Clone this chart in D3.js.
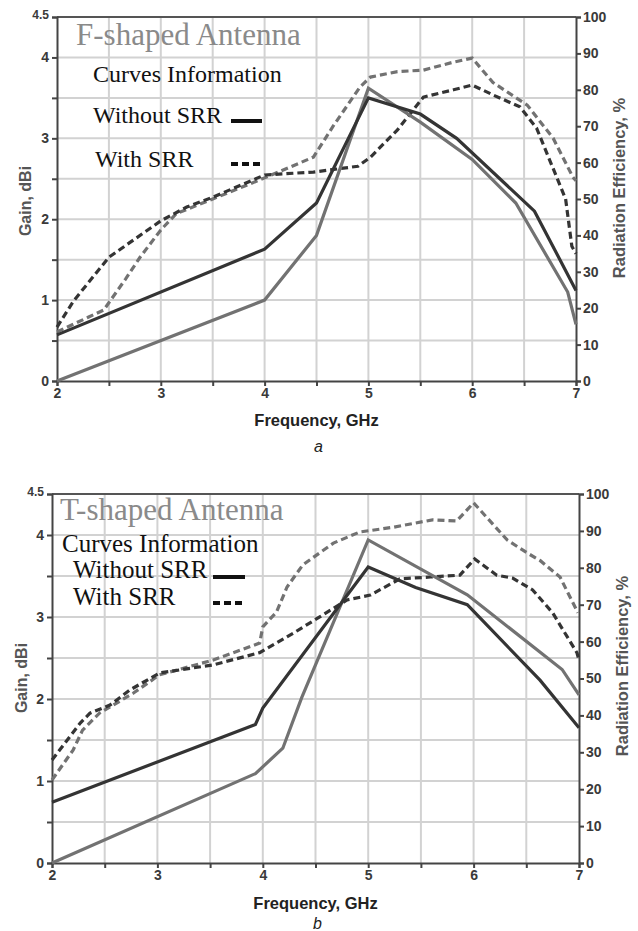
<!DOCTYPE html>
<html>
<head>
<meta charset="utf-8">
<script src="https://cdn.jsdelivr.net/npm/d3@7"></script>
<style>
  body { margin: 0; background: #fff; }
  svg { display: block; }
</style>
</head>
<body>
<div id="d3"></div>
<script>
// ---- data: [frequency GHz, value] ----
// panel a : F-shaped antenna
var aGainDark = [[2,0.57],[4,1.63],[4.5,2.2],[5,3.5],[5.5,3.3],[5.85,3.0],[6.6,2.1],[7,1.12]];
var aGainGrey = [[2,0],[4,1.0],[4.5,1.8],[5,3.62],[5.5,3.2],[6,2.74],[6.42,2.2],[6.92,1.1],[7,0.7]];
var aEffDark = [[2,14.8],[2.16,22],[2.5,34],[2.7,38],[3,44],[3.25,47.8],[3.5,50.5],[4,56.6],[4.47,57.4],
                [4.9,59],[5.02,61.5],[5.28,69],[5.53,78],[5.82,80],[6,81.3],[6.2,78.6],[6.46,75.3],
                [6.62,69.5],[6.9,50],[6.96,37],[7,35]];
var aEffGrey = [[2,13.5],[2.3,17.5],[2.45,19.5],[2.66,28],[2.8,34],[3,41.5],[3.15,46],[3.5,50],[4,55.8],
                [4.47,61.5],[4.66,70],[4.92,80.8],[5.02,83.5],[5.28,85],[5.53,85.4],[5.82,87.6],[6,88.7],
                [6.2,82],[6.53,75.8],[6.78,66.7],[6.97,56],[7,55]];
// panel b : T-shaped antenna
var bGainDark = [[2,0.74],[3.93,1.69],[4,1.89],[5,3.61],[5.45,3.36],[5.94,3.15],[6.63,2.23],[7,1.65]];
var bGainGrey = [[2,0],[3.93,1.09],[4.19,1.4],[4.37,2.02],[5,3.94],[5.94,3.27],[6.84,2.36],[7,2.05]];
var bEffDark = [[2,27.9],[2.27,38],[2.36,40.6],[2.55,42.8],[2.74,46.9],[3.02,51.5],[3.53,53.7],[3.97,57],
                [4.29,62.3],[4.54,66.7],[4.8,71.3],[5.02,72.6],[5.3,77],[5.59,77.5],[5.87,78],[6.01,82.4],
                [6.22,78],[6.37,77.2],[6.56,74],[6.75,67.8],[6.98,57],[7,55]];
var bEffGrey = [[2,22.5],[2.2,30.6],[2.29,36],[2.45,40.6],[2.77,46],[3.02,51],[3.53,55],[3.97,59.6],
                [4,64],[4.13,68],[4.23,74.8],[4.38,80.8],[4.67,86.7],[4.92,89.7],[5.24,91],[5.61,93],
                [5.84,92.7],[6,97.6],[6.32,87.5],[6.51,84],[6.63,82],[6.82,77.5],[6.99,67.8]];

var freqTicks = [2,2.5,3,3.5,4,4.5,5,5.5,6,6.5,7];
var gainTicks = [0,0.5,1,1.5,2,2.5,3,3.5,4,4.5];
var effTicks = [0,10,20,30,40,50,60,70,80,90,100];

var W = 638, H = 931;
var svg = d3.select("#d3").append("svg").attr("width", W).attr("height", H);

var panels = [
  {left:57, right:576, top:17, bottom:381, name:"F-shaped Antenna", letter:"a",
   gd:aGainDark, gg:aGainGrey, ed:aEffDark, eg:aEffGrey,
   titleY:45, titleX:76, tSize:31, lSize:24, infoX:93, infoY:82,
   woX:93, woY:123, wiX:95, wiY:167, lineX1:231, lineX2:262, woLineY:121, wiLineY:164,
   gainLabX:25, effLabX:619, gainMid:201, effMid:188, xTitleY:426, letterY:452},
  {left:52, right:579, top:494, bottom:863, name:"T-shaped Antenna", letter:"b",
   gd:bGainDark, gg:bGainGrey, ed:bEffDark, eg:bEffGrey,
   titleY:520, titleX:60, tSize:31, lSize:25, infoX:62, infoY:552,
   woX:73, woY:578, wiX:73, wiY:605, lineX1:213, lineX2:245, woLineY:577, wiLineY:603,
   gainLabX:21, effLabX:622, gainMid:678, effMid:666, xTitleY:909, letterY:929}
];

var dark = "#343434", grey = "#727272";

panels.forEach(function (p) {
    var g = svg.append("g");
    var x = d3.scaleLinear().domain([2, 7]).range([p.left, p.right]);
    var yG = d3.scaleLinear().domain([0, 4.5]).range([p.bottom, p.top]);
    var yE = d3.scaleLinear().domain([0, 100]).range([p.bottom, p.top]);

    // grid
    g.selectAll(".vg").data(freqTicks.slice(1, -1)).enter()
        .append("line")
        .attr("x1", function (d) { return x(d); })
        .attr("x2", function (d) { return x(d); })
        .attr("y1", p.top).attr("y2", p.bottom)
        .attr("stroke", "#d2d2d2").attr("stroke-width", 2);
    g.selectAll(".hg").data(gainTicks.slice(1, -1)).enter()
        .append("line")
        .attr("x1", p.left).attr("x2", p.right)
        .attr("y1", function (d) { return yG(d); })
        .attr("y2", function (d) { return yG(d); })
        .attr("stroke", "#d2d2d2").attr("stroke-width", 2);
    // top frame
    g.append("line")
        .attr("x1", p.left).attr("x2", p.right)
        .attr("y1", p.top).attr("y2", p.top)
        .attr("stroke", "#555").attr("stroke-width", 2);

    // axes
    var ax = g.append("g").attr("transform", "translate(0," + p.bottom + ")")
        .call(d3.axisBottom(x).tickValues(freqTicks).tickSize(5).tickPadding(2)
            .tickFormat(function (d) { return Number.isInteger(d) ? d : ""; }));
    var al = g.append("g").attr("transform", "translate(" + p.left + ",0)")
        .call(d3.axisLeft(yG).tickValues(gainTicks).tickSize(5).tickPadding(3)
            .tickFormat(function (d) { return (Number.isInteger(d) || d === 4.5) ? d : ""; }));
    var ar = g.append("g").attr("transform", "translate(" + p.right + ",0)")
        .call(d3.axisRight(yE).tickValues(effTicks).tickSize(5).tickPadding(2));

    [ax, al, ar].forEach(function (a) {
        a.select(".domain").attr("stroke", "#444").attr("stroke-width", 2);
        a.selectAll(".tick line").attr("stroke", "#444").attr("stroke-width", 2);
        a.selectAll(".tick text")
            .attr("font-family", "Liberation Sans, Arial, sans-serif")
            .attr("font-weight", "bold")
            .attr("font-size", "14px")
            .attr("fill", "#3a3a3a");
    });
    al.selectAll(".tick text").filter(function (d) { return d === 4.5; })
        .attr("font-size", "12px").attr("dy", "0.15em");

    // curves
    var lineG = d3.line().x(function (d) { return x(d[0]); }).y(function (d) { return yG(d[1]); });
    var lineE = d3.line().x(function (d) { return x(d[0]); }).y(function (d) { return yE(d[1]); });

    g.append("path").datum(p.eg).attr("d", lineE)
        .attr("fill", "none").attr("stroke", grey).attr("stroke-width", 3.2)
        .attr("stroke-dasharray", "7,4");
    g.append("path").datum(p.ed).attr("d", lineE)
        .attr("fill", "none").attr("stroke", dark).attr("stroke-width", 3.2)
        .attr("stroke-dasharray", "7,4");
    g.append("path").datum(p.gg).attr("d", lineG)
        .attr("fill", "none").attr("stroke", grey).attr("stroke-width", 3.2);
    g.append("path").datum(p.gd).attr("d", lineG)
        .attr("fill", "none").attr("stroke", dark).attr("stroke-width", 3.2);

    // legend text
    var serif = "Liberation Serif, Times New Roman, serif";
    g.append("text").attr("x", p.titleX).attr("y", p.titleY)
        .attr("font-family", serif).attr("font-size", p.tSize + "px")
        .attr("fill", "#8a8a8a").text(p.name);
    g.append("text").attr("x", p.infoX).attr("y", p.infoY)
        .attr("font-family", serif).attr("font-size", p.lSize + "px")
        .attr("fill", "#111").text("Curves Information");
    g.append("text").attr("x", p.woX).attr("y", p.woY)
        .attr("font-family", serif).attr("font-size", p.lSize + "px")
        .attr("fill", "#111").text("Without SRR");
    g.append("text").attr("x", p.wiX).attr("y", p.wiY)
        .attr("font-family", serif).attr("font-size", p.lSize + "px")
        .attr("fill", "#111").text("With SRR");
    g.append("line").attr("x1", p.lineX1).attr("x2", p.lineX2)
        .attr("y1", p.woLineY).attr("y2", p.woLineY)
        .attr("stroke", "#111").attr("stroke-width", 4);
    g.append("line").attr("x1", p.lineX1).attr("x2", p.lineX2)
        .attr("y1", p.wiLineY).attr("y2", p.wiLineY)
        .attr("stroke", "#111").attr("stroke-width", 4)
        .attr("stroke-dasharray", "7,4");

    // axis titles
    var sans = "Liberation Sans, Arial, sans-serif";
    g.append("text")
        .attr("transform", "translate(" + p.gainLabX + "," + p.gainMid + ") rotate(-90)")
        .attr("text-anchor", "middle").attr("dy", "0.35em")
        .attr("font-family", sans).attr("font-weight", "bold").attr("font-size", "16px")
        .attr("fill", "#555").text("Gain, dBi");
    g.append("text")
        .attr("transform", "translate(" + p.effLabX + "," + p.effMid + ") rotate(-90)")
        .attr("text-anchor", "middle").attr("dy", "0.35em")
        .attr("font-family", sans).attr("font-weight", "bold").attr("font-size", "16.5px")
        .attr("fill", "#555").text("Radiation Efficiency, %");
    g.append("text").attr("x", (p.left + p.right) / 2 - 0).attr("y", p.xTitleY)
        .attr("text-anchor", "middle")
        .attr("font-family", sans).attr("font-weight", "bold").attr("font-size", "16.5px")
        .attr("fill", "#222").text("Frequency, GHz");
    g.append("text").attr("x", (p.left + p.right) / 2 + 2).attr("y", p.letterY)
        .attr("text-anchor", "middle")
        .attr("font-family", sans).attr("font-style", "italic").attr("font-size", "16px")
        .attr("fill", "#222").text(p.letter);
});

d3.select("#d3").style("height", H + "px");
</script>
</body>
</html>
